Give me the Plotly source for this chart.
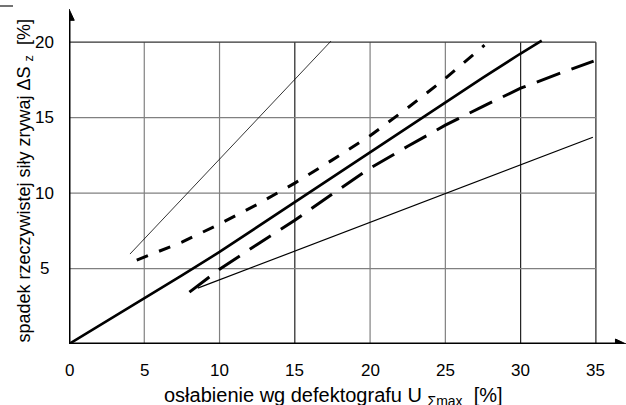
import plotly.graph_objects as go

# ---- data ----
x_ticks = [0, 5, 10, 15, 20, 25, 30, 35]
y_ticks = [5, 10, 15, 20]

thin_upper_x = [4.05, 17.4]
thin_upper_y = [5.96, 20.07]

solid_x = [0, 2.5, 5, 7.5, 10, 12.5, 15, 17.5, 20, 22.5, 25, 27.5, 30, 31.4]
solid_y = [0, 1.5, 3.0, 4.55, 6.1, 7.75, 9.4, 11.05, 12.75, 14.4, 16.05, 17.65, 19.25, 20.1]

short_dash_x = [4.5, 7.5, 10, 12.5, 15, 17.5, 20, 22.5, 25, 27.6]
short_dash_y = [5.56, 6.75, 7.95, 9.25, 10.66, 12.2, 13.8, 15.65, 17.6, 19.8]

long_dash_x = [8, 10, 12.5, 15, 17.5, 20, 22.5, 25, 27.5, 30, 32.5, 34.85]
long_dash_y = [3.44, 4.95, 6.6, 8.2, 9.95, 11.65, 13.1, 14.5, 15.75, 16.95, 17.9, 18.75]

thin_lower_x = [8.55, 34.8]
thin_lower_y = [3.7, 13.7]

X_MAX, Y_MAX = 37.0, 22.2
GRID_X_END, GRID_Y_END = 35, 20

fig = go.Figure()

def add_line(x, y, width, dash="solid"):
    fig.add_trace(go.Scatter(x=x, y=y, mode="lines",
                             line=dict(color="black", width=width, dash=dash),
                             showlegend=False, hoverinfo="skip"))

add_line(thin_upper_x, thin_upper_y, 0.8)
add_line(thin_lower_x, thin_lower_y, 1.2)
add_line(solid_x, solid_y, 2.6)
add_line(short_dash_x, short_dash_y, 3, "12px,12px")
add_line(long_dash_x, long_dash_y, 3, "25px,12px")

shapes = []
dark_x = {15, 30, 35}
for xv in x_ticks[1:]:
    shapes.append(dict(type="line", xref="x", yref="y", x0=xv, x1=xv, y0=0, y1=GRID_Y_END,
                       line=dict(color="#222222" if xv in dark_x else "#808080", width=1.2),
                       layer="below"))
for yv in y_ticks:
    shapes.append(dict(type="line", xref="x", yref="y", x0=0, x1=GRID_X_END, y0=yv, y1=yv,
                       line=dict(color="#333333" if yv == GRID_Y_END else "#808080", width=1.2),
                       layer="below"))
# axes with arrows
shapes.append(dict(type="line", xref="x", yref="y", x0=0, x1=X_MAX - 0.5, y0=0, y1=0,
                   line=dict(color="black", width=3)))
shapes.append(dict(type="line", xref="x", yref="y", x0=0, x1=0, y0=0, y1=Y_MAX - 0.5,
                   line=dict(color="black", width=3)))
shapes.append(dict(type="path", xref="x", yref="y",
                   path=f"M {X_MAX} 0 L {X_MAX-0.7} 0.33 L {X_MAX-0.7} -0.33 Z",
                   fillcolor="black", line=dict(color="black", width=1)))
shapes.append(dict(type="path", xref="x", yref="y",
                   path=f"M 0 {Y_MAX} L 0.35 {Y_MAX-0.75} L -0.35 {Y_MAX-0.75} Z",
                   fillcolor="black", line=dict(color="black", width=1)))
# small mark top-left
shapes.append(dict(type="line", xref="paper", yref="paper",
                   x0=-69/557, x1=-56/557, y0=1 + 3/335, y1=1 + 3/335,
                   line=dict(color="#444444", width=1.5)))

tick_font = dict(family="Liberation Sans, Arial, sans-serif", size=17, color="black")
xtitle_font = dict(family="Liberation Sans, Arial, sans-serif", size=20, color="black")
ytitle_font = dict(family="Liberation Sans, Arial, sans-serif", size=18, color="black")
annotations = []
for xv in x_ticks:
    annotations.append(dict(x=xv, y=0, xref="x", yref="y", text=str(xv), showarrow=False,
                            yshift=-26, xanchor="center", yanchor="middle", font=tick_font))
for yv in y_ticks:
    annotations.append(dict(x=0, y=yv, xref="x", yref="y", text=str(yv), showarrow=False,
                            xshift=-25, xanchor="center", yanchor="middle", font=tick_font))
annotations.append(dict(x=(333 - 69) / 557, y=-(382 - 344) / 335, xref="paper", yref="paper",
                        text="osłabienie wg defektografu U <sub>Σmax</sub>  [%]",
                        showarrow=False, xanchor="center", yanchor="top", font=xtitle_font))
annotations.append(dict(x=-(69 - 11) / 557, y=(344 - 181) / 335, xref="paper", yref="paper",
                        text="spadek rzeczywistej siły zrywaj ΔS <sub>z</sub>  [%]",
                        textangle=-90, showarrow=False, xanchor="left", yanchor="middle",
                        font=ytitle_font))

fig.update_layout(
    width=626, height=405,
    margin=dict(l=69, r=0, t=9, b=61),
    paper_bgcolor="white", plot_bgcolor="white",
    xaxis=dict(range=[0, X_MAX], showgrid=False, zeroline=False, showticklabels=False,
               showline=False, ticks=""),
    yaxis=dict(range=[0, Y_MAX], showgrid=False, zeroline=False, showticklabels=False,
               showline=False, ticks=""),
    shapes=shapes, annotations=annotations, showlegend=False,
)

fig.write_html("out.html", config={"displayModeBar": False},
               post_script="document.body.style.margin='0';document.body.style.padding='0';")
